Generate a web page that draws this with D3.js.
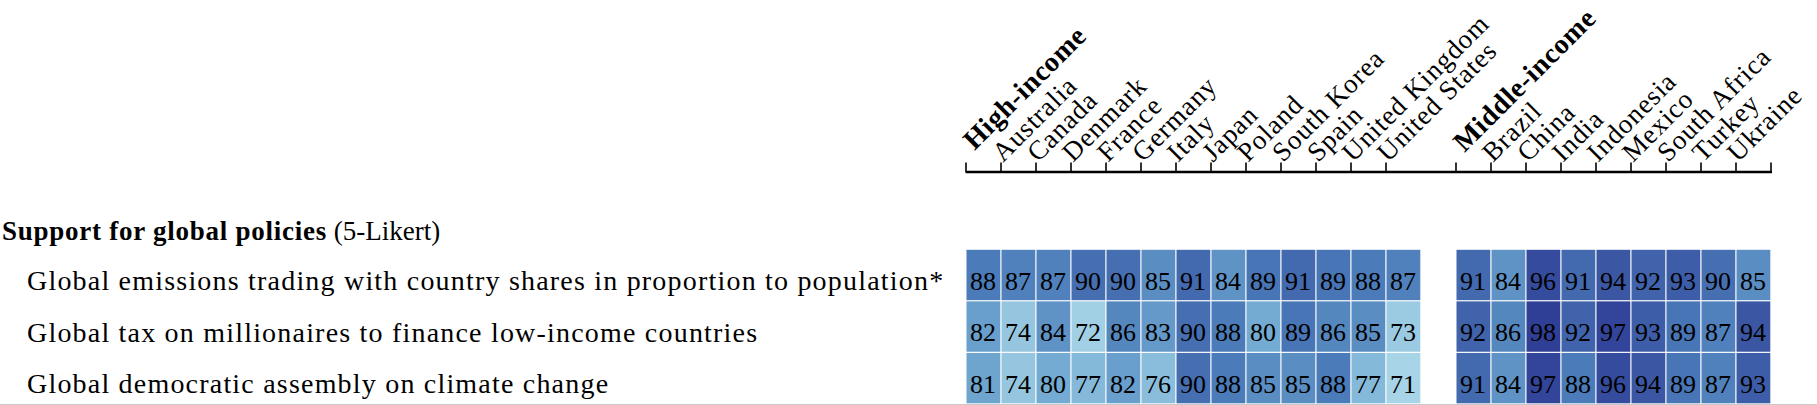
<!DOCTYPE html>
<html>
<head>
<meta charset="utf-8">
<script src="https://cdn.jsdelivr.net/npm/d3@7"></script>
<style>
  html, body { margin: 0; padding: 0; background: #ffffff; }
  svg { display: block; }
</style>
</head>
<body>
<svg id="chart" width="1817" height="405"></svg>
<script>
// ---------------- data ----------------
const columns = ["High-income", "Australia", "Canada", "Denmark", "France", "Germany", "Italy",
  "Japan", "Poland", "South Korea", "Spain", "United Kingdom", "United States",
  "Middle-income", "Brazil", "China", "India", "Indonesia", "Mexico", "South Africa", "Turkey", "Ukraine"];
const groupHeaders = ["High-income", "Middle-income"];
const sectionTitle = "Support for global policies";
const sectionNote = " (5-Likert)";
const policies = [
  "Global emissions trading with country shares in proportion to population*",
  "Global tax on millionaires to finance low-income countries",
  "Global democratic assembly on climate change"
];
const emissionsTrading   = [88, 87, 87, 90, 90, 85, 91, 84, 89, 91, 89, 88, 87, 91, 84, 96, 91, 94, 92, 93, 90, 85];
const millionaireTax     = [82, 74, 84, 72, 86, 83, 90, 88, 80, 89, 86, 85, 73, 92, 86, 98, 92, 97, 93, 89, 87, 94];
const democraticAssembly = [81, 74, 80, 77, 82, 76, 90, 88, 85, 85, 88, 77, 71, 91, 84, 97, 88, 96, 94, 89, 87, 93];
const colorStops = [71, 80, 88, 98];
const colorRange = ["#a7d4e6", "#73abd2", "#4b7bb9", "#303f96"];

const rowsData = [emissionsTrading, millionaireTax, democraticAssembly];
const FONT = "Liberation Serif";

// ---------------- layout ----------------
const svg = d3.select("#chart").attr("font-family", FONT);
// slot index: a gap slot after the high-income block
const slot = i => (i < 13 ? i : i + 1);
const nSlots = columns.length + 1; // edges 0..23
const x = d3.scaleLinear().domain([0, nSlots]).range([966, 1771]);
const y = d3.scaleBand().domain(d3.range(policies.length)).range([249.3, 404]).paddingInner(0);
const color = d3.scaleLinear().domain(colorStops).range(colorRange).interpolate(d3.interpolateRgb).clamp(true);

// page border line at bottom
svg.append("line")
  .attr("x1", 0).attr("x2", 1817).attr("y1", 404.5).attr("y2", 404.5)
  .attr("stroke", "#c8c8c8").attr("stroke-width", 1);

// axis line with ticks
const axisY = 172;
const tickSlots = columns.map((c, i) => slot(i)).concat([nSlots]);
svg.append("line")
  .attr("x1", x(0) - 0.5).attr("x2", x(nSlots) + 1)
  .attr("y1", axisY).attr("y2", axisY)
  .attr("stroke", "#000").attr("stroke-width", 2.6);
svg.selectAll("line.tick").data(tickSlots).join("line")
  .attr("class", "tick")
  .attr("x1", d => x(d)).attr("x2", d => x(d))
  .attr("y1", axisY).attr("y2", axisY - 9.5)
  .attr("stroke", "#000").attr("stroke-width", 1.6);

// column labels, rotated
svg.selectAll("text.col").data(columns).join("text")
  .attr("class", "col")
  .attr("font-family", FONT)
  .attr("transform", (d, i) => {
    const g = groupHeaders.includes(d);
    const px = x(slot(i)) + (g ? 8.5 : 2);
    const py = g ? (i === 0 ? 151 : 153) : 163;
    return `translate(${px},${py}) rotate(-45)`;
  })
  .attr("font-size", d => groupHeaders.includes(d) ? 28 : 27)
  .attr("font-weight", d => groupHeaders.includes(d) ? "bold" : "normal")
  .attr("letter-spacing", d => groupHeaders.includes(d) ? 0.6 : 0.9)
  .attr("fill", "#000")
  .text(d => d);

// section title
const title = svg.append("text")
  .attr("font-family", FONT)
  .attr("x", 2).attr("y", 239.5)
  .attr("font-size", 27)
  .attr("fill", "#000");
title.append("tspan").attr("font-weight", "bold").attr("letter-spacing", 0.75).text(sectionTitle);
title.append("tspan").attr("letter-spacing", 0).text(sectionNote);

// row labels
svg.selectAll("text.rowlab").data(policies).join("text")
  .attr("class", "rowlab")
  .attr("font-family", FONT)
  .attr("x", 27)
  .attr("y", (d, r) => y(r) + 40.8)
  .attr("font-size", 28)
  .attr("letter-spacing", 1.2)
  .attr("fill", "#000")
  .text(d => d);

// cells
const cells = [];
rowsData.forEach((vals, r) => vals.forEach((v, i) => cells.push({ r, i, v })));

svg.selectAll("rect.cell").data(cells).join("rect")
  .attr("class", "cell")
  .attr("x", d => x(slot(d.i)) + 0.5)
  .attr("y", d => y(d.r) + 0.5)
  .attr("width", d => x(slot(d.i) + 1) - x(slot(d.i)) - 1.2)
  .attr("height", y.bandwidth() - 1.2)
  .attr("fill", d => color(d.v));

svg.selectAll("text.val").data(cells).join("text")
  .attr("class", "val")
  .attr("font-family", FONT)
  .attr("x", d => (x(slot(d.i)) + x(slot(d.i) + 1)) / 2 - 0.5)
  .attr("y", d => y(d.r) + 40.6)
  .attr("text-anchor", "middle")
  .attr("font-size", 26)
  .attr("fill", "#000")
  .text(d => d.v);
</script>
</body>
</html>
